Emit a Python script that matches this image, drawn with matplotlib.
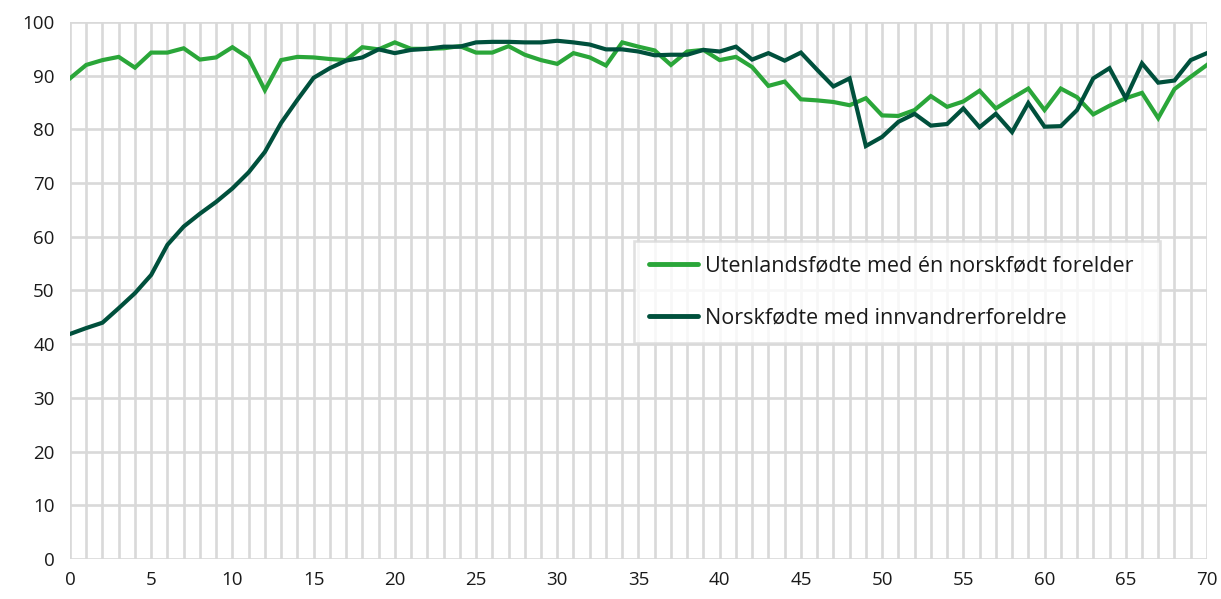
import matplotlib.pyplot as plt
from matplotlib.ticker import MultipleLocator

plt.rcParams['font.family'] = ['Open Sans', 'DejaVu Sans']

alder = list(range(0, 71))

utenlandsfodte = [
    89.5, 92.0, 92.9, 93.5, 91.5, 94.3, 94.3, 95.1, 93.0, 93.4,
    95.3, 93.3, 87.3, 92.9, 93.5, 93.4, 93.1, 92.9, 95.3, 94.9,
    96.2, 95.0, 95.0, 95.1, 95.5, 94.3, 94.3, 95.5, 93.9, 92.9,
    92.2, 94.2, 93.4, 91.9, 96.2, 95.4, 94.7, 92.0, 94.5, 94.8,
    92.9, 93.5, 91.6, 88.1, 88.9, 85.6, 85.4, 85.1, 84.5, 85.8,
    82.6, 82.5, 83.6, 86.2, 84.2, 85.2, 87.2, 83.9, 85.8, 87.6,
    83.6, 87.6, 86.0, 82.8, 84.4, 85.8, 86.8, 82.1, 87.5, 89.8,
    92.0,
]

norskfodte = [
    41.9, 43.0, 44.0, 46.7, 49.5, 52.9, 58.5, 61.9, 64.3, 66.5,
    69.0, 72.0, 75.8, 81.2, 85.5, 89.6, 91.4, 92.8, 93.4, 94.9,
    94.2, 94.8, 95.0, 95.4, 95.4, 96.2, 96.3, 96.3, 96.2, 96.2,
    96.5, 96.2, 95.8, 94.9, 94.9, 94.5, 93.8, 93.9, 93.9, 94.8,
    94.5, 95.4, 93.0, 94.2, 92.8, 94.3, 91.1, 88.0, 89.5, 76.9,
    78.6, 81.4, 82.9, 80.7, 81.0, 83.9, 80.4, 82.9, 79.5, 84.9,
    80.5, 80.6, 83.6, 89.5, 91.4, 85.8, 92.3, 88.7, 89.1, 92.9,
    94.2,
]

serie_navn = ['Utenlandsfødte med én norskfødt forelder', 'Norskfødte med innvandrerforeldre']
farger = ['#2AA639', '#00503C']

fig = plt.figure(figsize=(12.21, 5.99), dpi=100)
ax = fig.add_axes([0.0573, 0.0668, 0.9312, 0.8965])

ax.plot(alder, utenlandsfodte, color=farger[0], lw=3, label=serie_navn[0],
        solid_joinstyle='miter', zorder=3)
ax.plot(alder, norskfodte, color=farger[1], lw=3, label=serie_navn[1],
        solid_joinstyle='miter', zorder=4)

ax.set_xlim(0, 70)
ax.set_ylim(0, 100)
ax.xaxis.set_major_locator(MultipleLocator(5))
ax.xaxis.set_minor_locator(MultipleLocator(1))
ax.yaxis.set_major_locator(MultipleLocator(10))

ax.grid(True, which='both', axis='x', color='#d9d9d9', lw=1.9, zorder=0)
ax.grid(True, which='major', axis='y', color='#d9d9d9', lw=1.9, zorder=0)
ax.set_axisbelow(True)
for s in ax.spines.values():
    s.set_visible(False)

ax.tick_params(which='both', length=0, labelsize=13.5, colors='#1a1a1a')
ax.tick_params(axis='x', pad=9)
ax.tick_params(axis='y', pad=11)

leg = ax.legend(loc='lower left', bbox_to_anchor=(0.496, 0.402, 0.463, 0.183),
                mode='expand', fontsize=15.5, frameon=True, fancybox=False,
                handlelength=2.3, handletextpad=0.3, labelspacing=1.42,
                borderpad=0.68, borderaxespad=0)
leg.get_frame().set_edgecolor('#d9d9d9')
leg.get_frame().set_linewidth(1.9)
for h in leg.get_lines():
    h.set_solid_capstyle('round')
    h.set_linewidth(3.5)
for t in leg.get_texts():
    t.set_color('#1a1a1a')

fig.savefig('out.png', dpi=100)
